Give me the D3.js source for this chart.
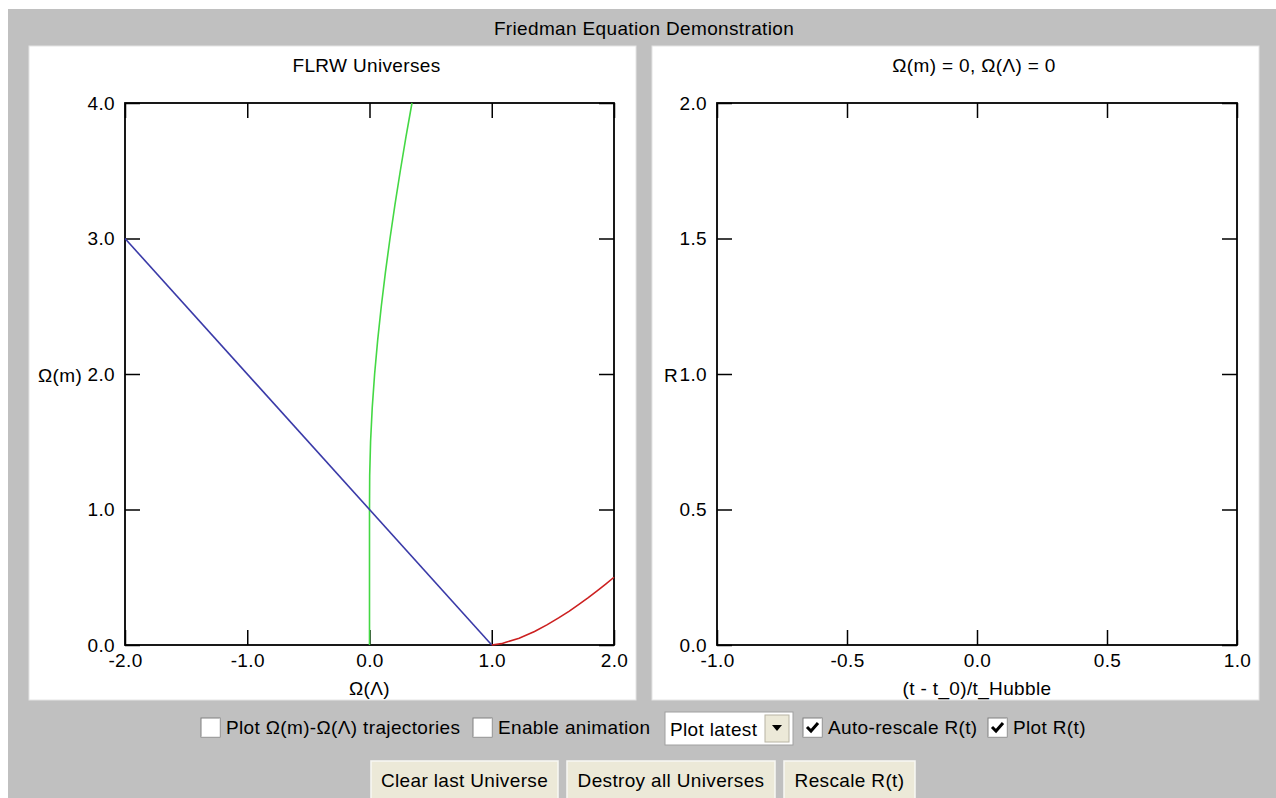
<!DOCTYPE html>
<html>
<head>
<meta charset="utf-8">
<script src="https://cdn.jsdelivr.net/npm/d3@7"></script>
<style>
  body { margin: 0; background: #fff; }
  svg text { font-family: "Liberation Sans", Arial, sans-serif; font-size: 19px; fill: #000; letter-spacing: 0.35px; }
</style>
</head>
<body>
<div id="my_dataviz"></div>
<script>
// chart texts
var mainTitle = "Friedman Equation Demonstration"
var leftTitle = "FLRW Universes"
var rightTitle = "\u03A9(m) = 0, \u03A9(\u039B) = 0"

// tick values
var leftXTicks = [-2, -1, 0, 1, 2]
var leftYTicks = [0, 1, 2, 3, 4]
var rightXTicks = [-1, -0.5, 0, 0.5, 1]
var rightYTicks = [0, 0.5, 1, 1.5, 2]

// green curve (recollapse boundary)
var greenLambda = [0, 0, 0.0015, 0.0087, 0.0223, 0.0419, 0.0669, 0.0965, 0.1302, 0.1676, 0.2083, 0.2521, 0.2982, 0.3475]
var greenMatter = [0, 1.0, 1.25, 1.5, 1.75, 2.0, 2.25, 2.5, 2.75, 3.0, 3.25, 3.5, 3.75, 4.0]

// blue line (flat universes)
var blueLambda = [-2, 1]
var blueMatter = [3, 0]

// red curve (no big bang boundary)
var redLambda = [1.0, 1.08, 1.1156, 1.224, 1.35, 1.4547, 1.547, 1.6347, 1.713, 1.7896, 1.862, 1.9321, 2.0]
var redMatter = [0, 0.01, 0.02, 0.05, 0.1, 0.15, 0.2, 0.25, 0.3, 0.35, 0.4, 0.45, 0.5]

// controls
var checkLabels = ["Plot \u03A9(m)-\u03A9(\u039B) trajectories", "Enable animation", "Auto-rescale R(t)", "Plot R(t)"]
var checkStates = [false, false, true, true]
var selectLabel = "Plot latest"
var buttonLabels = ["Clear last Universe", "Destroy all Universes", "Rescale R(t)"]

var W = 1276, H = 798
var svg = d3.select("#my_dataviz").append("svg")
    .attr("width", W).attr("height", H)

// gray applet background
svg.append("rect").attr("x", 8).attr("y", 9).attr("width", W - 8).attr("height", H - 9).attr("fill", "#c0c0c0")

svg.append("text").attr("x", 644).attr("y", 28).attr("dy", "0.35em")
    .attr("text-anchor", "middle").text(mainTitle)

/**
 * draws one plot panel with frame, inward ticks on all four sides
 */
function drawPanel(opt) {
    var g = svg.append("g")
    g.append("rect").attr("x", opt.px).attr("y", 46).attr("width", 607).attr("height", 654)
        .attr("fill", "#fff").attr("stroke", "#e4e4e4").attr("stroke-width", 1)

    var x = d3.scaleLinear().domain(opt.xDomain).range([opt.x0, opt.x1])
    var y = d3.scaleLinear().domain(opt.yDomain).range([645, 103])
    // plain hyphen for negatives, like the original applet
    var fmt = function (d) { return d.toFixed(1) }

    var bottom = g.append("g").attr("transform", "translate(0,645)")
        .call(d3.axisBottom(x).tickValues(opt.xTicks).tickFormat(fmt).tickSize(-15).tickPadding(9))
    var top = g.append("g").attr("transform", "translate(0,103)")
        .call(d3.axisTop(x).tickValues(opt.xTicks).tickFormat("").tickSize(-15))
    var left = g.append("g").attr("transform", "translate(" + opt.x0 + ",0)")
        .call(d3.axisLeft(y).tickValues(opt.yTicks).tickFormat(fmt).tickSize(-15).tickPadding(10))
    var right = g.append("g").attr("transform", "translate(" + opt.x1 + ",0)")
        .call(d3.axisRight(y).tickValues(opt.yTicks).tickFormat("").tickSize(-15))

    ;[bottom, top, left, right].forEach(function (a) {
        a.attr("font-size", null).attr("font-family", null)
        a.select(".domain").remove()
        a.selectAll("line").attr("stroke", "#000").attr("stroke-width", 1.5)
    })

    g.append("rect").attr("x", opt.x0).attr("y", 103)
        .attr("width", opt.x1 - opt.x0).attr("height", 645 - 103)
        .attr("fill", "none").attr("stroke", "#000").attr("stroke-width", 1.8)

    g.append("text").attr("x", (opt.x0 + opt.x1) / 2 - 3).attr("y", 65).attr("dy", "0.35em")
        .attr("text-anchor", "middle").text(opt.title)
    g.append("text").attr("x", (opt.x0 + opt.x1) / 2).attr("y", 688).attr("dy", "0.35em")
        .attr("text-anchor", "middle").text(opt.xLabel)
    g.append("text").attr("x", opt.yLabelX).attr("y", 375).attr("dy", "0.35em")
        .text(opt.yLabel)

    return { g: g, x: x, y: y }
}

var leftP = drawPanel({
    px: 29, x0: 125, x1: 614, xDomain: [-2, 2], yDomain: [0, 4],
    xTicks: leftXTicks, yTicks: leftYTicks, title: leftTitle,
    xLabel: "\u03A9(\u039B)", yLabel: "\u03A9(m)", yLabelX: 38
})
var rightP = drawPanel({
    px: 652, x0: 717, x1: 1237, xDomain: [-1, 1], yDomain: [0, 2],
    xTicks: rightXTicks, yTicks: rightYTicks, title: rightTitle,
    xLabel: "(t - t_0)/t_Hubble", yLabel: "R", yLabelX: 664
})

// curves on the left plot
var line = d3.line()
    .x(function (d) { return leftP.x(d[0]) })
    .y(function (d) { return leftP.y(d[1]) })

var curves = [
    { xs: greenLambda, ys: greenMatter, color: "#44d844" },
    { xs: blueLambda, ys: blueMatter, color: "#3a3aa8" },
    { xs: redLambda, ys: redMatter, color: "#cc2020" }
]
curves.forEach(function (c) {
    leftP.g.append("path")
        .datum(d3.zip(c.xs, c.ys))
        .attr("d", line)
        .attr("fill", "none")
        .attr("stroke", c.color)
        .attr("stroke-width", 1.6)
})

// ---- controls row ----
function checkbox(x, checked) {
    var y = 718
    svg.append("rect").attr("x", x).attr("y", y).attr("width", 19).attr("height", 19)
        .attr("fill", "#fff").attr("stroke", "#808080").attr("stroke-width", 1)
    svg.append("path").attr("d", "M" + (x + 0.5) + "," + (y + 18.5) + "H" + (x + 18.5) + "V" + (y + 0.5))
        .attr("fill", "none").attr("stroke", "#e8e8e8").attr("stroke-width", 1)
    if (checked) {
        svg.append("path")
            .attr("d", "M" + (x + 4) + "," + (y + 9) + "L" + (x + 8) + "," + (y + 13) + "L" + (x + 15) + "," + (y + 5))
            .attr("fill", "none").attr("stroke", "#000").attr("stroke-width", 3)
    }
}
var checkX = [201, 473, 803, 988]
var checkTextX = [226, 498, 828, 1013]
checkLabels.forEach(function (t, i) {
    checkbox(checkX[i], checkStates[i])
    svg.append("text").attr("x", checkTextX[i]).attr("y", 727).attr("dy", "0.35em").text(t)
})

// select box
svg.append("rect").attr("x", 665).attr("y", 712).attr("width", 128).attr("height", 33)
    .attr("fill", "#fff").attr("stroke", "#a0a0a0")
svg.append("rect").attr("x", 765).attr("y", 715).attr("width", 24).attr("height", 27)
    .attr("fill", "#ece9d8").attr("stroke", "#b8b4a4")
svg.append("path").attr("d", "M772,725 L782,725 L777,731 Z").attr("fill", "#000")
svg.append("text").attr("x", 670).attr("y", 729).attr("dy", "0.35em").text(selectLabel)

// buttons
var buttonX = [371, 567, 784]
var buttonW = [187, 208, 131]
buttonLabels.forEach(function (t, i) {
    svg.append("rect").attr("x", buttonX[i]).attr("y", 761).attr("width", buttonW[i]).attr("height", 40)
        .attr("fill", "#ece9d8").attr("stroke", "#f8f8f4").attr("stroke-width", 1.5)
    svg.append("text").attr("x", buttonX[i] + buttonW[i] / 2).attr("y", 780).attr("dy", "0.35em")
        .attr("text-anchor", "middle").text(t)
})
</script>
</body>
</html>
